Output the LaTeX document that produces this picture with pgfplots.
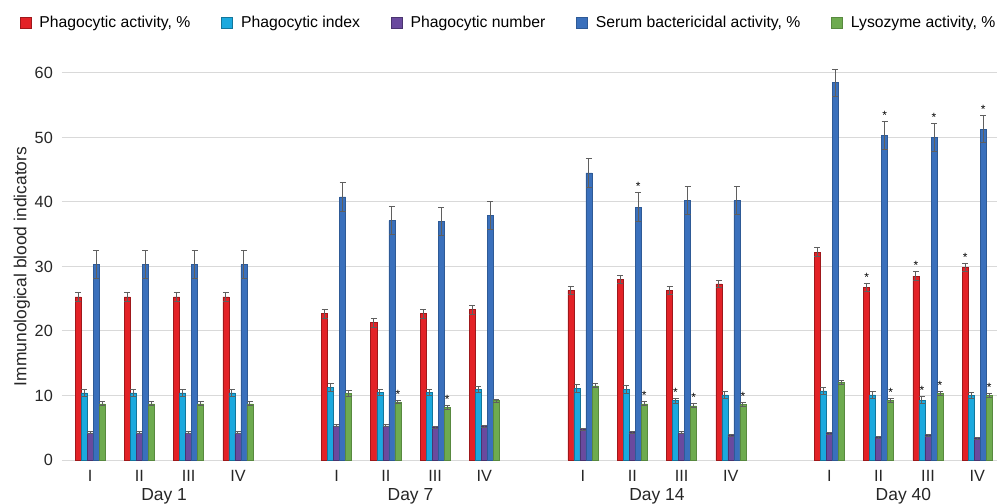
\documentclass[border=0pt]{standalone}
\usepackage{pgfplots}
\pgfplotsset{compat=1.18}
\usepackage{pgfplotstable}
\usepackage{fontspec}
\setmainfont{Liberation Sans}
\usetikzlibrary{calc}
\definecolor{cRed}{HTML}{E32227}
\definecolor{cCyan}{HTML}{1BA9DE}
\definecolor{cPurple}{HTML}{6A4A9E}
\definecolor{cBlue}{HTML}{3A70BC}
\definecolor{cGreen}{HTML}{6EAB4F}
\definecolor{gridgray}{HTML}{D9D9D9}
\definecolor{errgray}{HTML}{5F5F5F}

\pgfplotstableread{
x y e
0 25.3 0.65
1 25.3 0.65
2 25.3 0.65
3 25.3 0.65
5 22.7 0.7
6 21.3 0.7
7 22.7 0.7
8 23.3 0.7
10 26.3 0.6
11 28.0 0.6
12 26.3 0.6
13 27.3 0.6
15 32.2 0.7
16 26.8 0.6
17 28.5 0.7
18 29.8 0.6
}\tRed
\pgfplotstableread{
x y e
0 10.4 0.5
1 10.4 0.5
2 10.4 0.5
3 10.4 0.5
5 11.2 0.6
6 10.5 0.5
7 10.5 0.5
8 10.9 0.5
10 11.1 0.6
11 10.9 0.6
12 9.2 0.4
13 10.1 0.5
15 10.7 0.5
16 10.1 0.5
17 9.3 0.5
18 10.0 0.5
}\tCyan
\pgfplotstableread{
x y e
0 4.2 0.15
1 4.2 0.15
2 4.2 0.15
3 4.2 0.15
5 5.3 0.15
6 5.3 0.15
7 5.1 0.15
8 5.2 0.15
10 4.7 0.15
11 4.3 0.15
12 4.2 0.15
13 3.8 0.15
15 4.1 0.15
16 3.5 0.15
17 3.8 0.15
18 3.4 0.15
}\tPurple
\pgfplotstableread{
x y e
0 30.3 2.2
1 30.3 2.2
2 30.3 2.2
3 30.3 2.2
5 40.8 2.2
6 37.1 2.2
7 37.0 2.2
8 37.9 2.2
10 44.5 2.2
11 39.2 2.2
12 40.2 2.2
13 40.2 2.2
15 58.5 2.1
16 50.3 2.2
17 50.0 2.2
18 51.3 2.1
}\tBlue
\pgfplotstableread{
x y e
0 8.7 0.3
1 8.7 0.3
2 8.7 0.3
3 8.7 0.3
5 10.3 0.4
6 9.0 0.3
7 8.2 0.3
8 9.2 0.25
10 11.5 0.3
11 8.7 0.3
12 8.4 0.3
13 8.6 0.3
15 12.0 0.3
16 9.2 0.3
17 10.3 0.3
18 10.0 0.3
}\tGreen

\begin{document}
\begin{tikzpicture}
\pgfplotsset{
  eb/.style={error bars/.cd, y dir=both, y explicit,
    error bar style={draw=errgray, line width=1bp},
    error mark options={draw=errgray, line width=1bp, mark size=3bp, rotate=90}},
  star/.style={ybar, draw=none, fill=none, forget plot, bar shift=#1,
    point meta=explicit symbolic, nodes near coords,
    nodes near coords style={anchor=base, inner sep=0pt, yshift=2bp,
      font=\fontsize{12}{12}\selectfont, text=black}},
}
\begin{axis}[
  name=ax,
  scale only axis, width=935bp, height=387bp,
  xmin=-0.57, xmax=18.4, ymin=0, ymax=60,
  clip=false,
  ybar, bar width=0.122,
  ytick={0,10,...,60},
  xtick={0,1,2,3,5,6,7,8,10,11,12,13,15,16,17,18},
  xticklabels={I,II,III,IV,I,II,III,IV,I,II,III,IV,I,II,III,IV},
  extra x ticks={1.5,6.5,11.5,16.5},
  extra x tick labels={Day 1,Day 7,Day 14,Day 40},
  extra x tick style={grid=none, major tick length=0pt,
    tick label style={yshift=-18bp, font=\fontsize{17.5}{20}\selectfont}},
  ymajorgrids, grid style={draw=gridgray, line width=1bp},
  axis line style={draw=none},
  major tick length=0pt,
  /pgf/number format/assume math mode=true,
  tick label style={font=\fontsize{16.3}{19}\selectfont, text=black!85},
  yticklabel style={inner sep=0pt, xshift=-9bp},
  xticklabel style={inner sep=0pt, yshift=-10bp},
  ylabel={Immunological blood indicators},
  ylabel style={at={(axis description cs:-0.0428,0.5)}, anchor=center,
    font=\fontsize{17.5}{20}\selectfont, text=black!85},
  legend columns=5,
  legend style={at={(axis description cs:0.4765,1.1305)}, anchor=center,
    draw=none, fill=none, font=\fontsize{15.8}{18}\selectfont,
    nodes={inner sep=0pt, text=black},
    /tikz/every odd column/.append style={column sep=8bp},
    /tikz/every even column/.append style={column sep=31bp}},
  legend image code/.code={\draw[#1, line width=0.6bp] (0bp,-5.5bp) rectangle (11bp,5.5bp);},
]
\addplot[fill=cRed, draw=cRed!70!black, line width=0.6bp, bar shift=-0.244, eb] table[x=x, y=y, y error=e]{\tRed};
\addlegendentry{Phagocytic activity, \%}
\addplot[fill=cCyan, draw=cCyan!70!black, line width=0.6bp, bar shift=-0.122, eb] table[x=x, y=y, y error=e]{\tCyan};
\addlegendentry{Phagocytic index}
\addplot[fill=cPurple, draw=cPurple!70!black, line width=0.6bp, bar shift=0, eb] table[x=x, y=y, y error=e]{\tPurple};
\addlegendentry{Phagocytic number}
\addplot[fill=cBlue, draw=cBlue!80!black, line width=0.6bp, bar shift=0.122, eb] table[x=x, y=y, y error=e]{\tBlue};
\addlegendentry{Serum bactericidal activity, \%}
\addplot[fill=cGreen, draw=cGreen!80!black, line width=0.6bp, bar shift=0.244, eb] table[x=x, y=y, y error=e]{\tGreen};
\addlegendentry{Lysozyme activity, \%}
% significance markers (top of error bar)
\addplot[star=-0.244] coordinates {(16,27.4) [*] (17,29.2) [*] (18,30.4) [*]};
\addplot[star=-0.122] coordinates {(12,9.6) [*] (17,9.8) [*]};
\addplot[star=0.122] coordinates {(11,41.4) [*] (16,52.5) [*] (17,52.2) [*] (18,53.4) [*]};
\addplot[star=0.244] coordinates {(6,9.3) [*] (7,8.5) [*] (11,9.0) [*] (12,8.7) [*] (13,8.9) [*] (16,9.5) [*] (17,10.6) [*] (18,10.3) [*]};
\end{axis}
\pgfresetboundingbox
\path ($(ax.south west)+(-62bp,-44bp)$) rectangle ($(ax.north east)+(0bp,73bp)$);
\end{tikzpicture}
\end{document}
